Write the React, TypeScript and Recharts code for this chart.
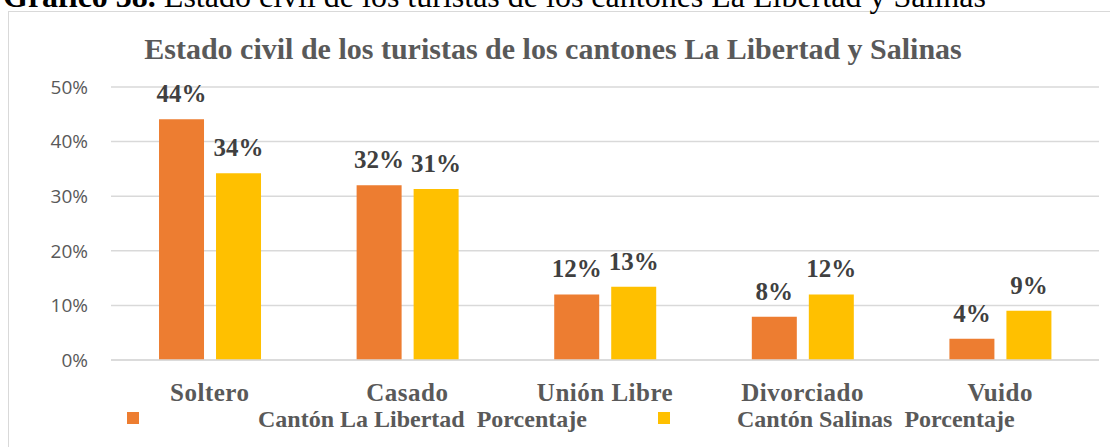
import { BarChart, Bar, XAxis, YAxis, CartesianGrid, LabelList, Legend } from 'recharts';

const categories = ['Soltero', 'Casado', 'Unión Libre', 'Divorciado', 'Vuido'];
const libertad = [0.441, 0.32, 0.12, 0.079, 0.039];
const salinas = [0.342, 0.313, 0.134, 0.12, 0.09];
const yTicks = [0, 0.1, 0.2, 0.3, 0.4, 0.5];
const seriesNames = ['Cantón La Libertad  Porcentaje', 'Cantón Salinas  Porcentaje'];

const data = categories.map((name, i) => ({ name, libertad: libertad[i], salinas: salinas[i] }));

const pct = (v: number) => `${Math.round(v * 100)}%`;
const serif = '"Liberation Serif", "Times New Roman", serif';

const legendPos = [
  { box: 127, text: 258 },
  { box: 658, text: 737 },
];

function ChartLegend({ payload }: { payload?: Array<{ value: string; color: string }> }) {
  return (
    <svg width={1110} height={40} style={{ display: 'block' }}>
      {(payload || []).map((p, i) => (
        <g key={p.value}>
          <rect x={legendPos[i].box} y={2} width={12} height={12} fill={p.color} />
          <text
            x={legendPos[i].text}
            y={17}
            fontFamily={serif}
            fontWeight="bold"
            fontSize={24}
            fill="#595959"
            style={{ whiteSpace: 'pre' }}
          >
            {p.value}
          </text>
        </g>
      ))}
    </svg>
  );
}

export default function App() {
  return (
    <div style={{ position: 'absolute', left: 0, top: 0, width: 1110, height: 447, overflow: 'hidden', background: '#fff' }}>
      <div style={{ position: 'absolute', left: 8, top: 11, width: 1130, height: 470, border: '1.5px solid #d9d9d9', boxSizing: 'border-box' }} />
      <svg width={1110} height={20} style={{ position: 'absolute', left: 0, top: 0 }}>
        <text x={3} y={7} fontFamily={serif} fontSize={32} fill="#000">
          <tspan fontWeight="bold">Gráfico 38.</tspan> Estado civil de los turistas de los cantones La Libertad y Salinas
        </text>
      </svg>
      <svg width={1110} height={80} style={{ position: 'absolute', left: 0, top: 20 }}>
        <text x={553} y={39} textAnchor="middle" fontFamily={serif} fontWeight="bold" fontSize={30} fill="#595959">
          Estado civil de los turistas de los cantones La Libertad y Salinas
        </text>
      </svg>
      <div style={{ position: 'absolute', left: 0, top: 0 }}>
        <BarChart
          width={1110}
          height={447}
          data={data}
          margin={{ top: 87, right: 11, bottom: 7, left: 0 }}
          barCategoryGap="24.3%"
          barGap={12}
        >
          <CartesianGrid horizontal vertical={false} stroke="#d9d9d9" strokeWidth={1.5} />
          <XAxis
            dataKey="name"
            axisLine={{ stroke: '#d9d9d9', strokeWidth: 1.5 }}
            tickLine={false}
            height={40}
            tickMargin={17}
            tick={{ fontFamily: serif, fontWeight: 'bold', fontSize: 25, fill: '#595959', letterSpacing: 0.5 }}
          />
          <YAxis
            domain={[0, 0.5]}
            ticks={yTicks}
            tickFormatter={pct}
            width={111}
            axisLine={false}
            tickLine={false}
            tickMargin={17}
            tick={{ fontFamily: '"Open Sans", "Noto Sans", sans-serif', fontSize: 19, fill: '#595959' }}
          />
          <Legend
            verticalAlign="bottom"
            content={<ChartLegend />}
            wrapperStyle={{ position: 'absolute', left: 0, top: 410, width: 1110, height: 40 }}
          />
          <Bar dataKey="libertad" name={seriesNames[0]} fill="#ed7d31" isAnimationActive={false}>
            <LabelList
              dataKey="libertad"
              position="top"
              offset={17}
              formatter={(v: any) => pct(Number(v))}
              style={{ fontFamily: serif, fontWeight: 'bold', fontSize: 25, fill: '#404040' }}
            />
          </Bar>
          <Bar dataKey="salinas" name={seriesNames[1]} fill="#ffc000" isAnimationActive={false}>
            <LabelList
              dataKey="salinas"
              position="top"
              offset={17}
              formatter={(v: any) => pct(Number(v))}
              style={{ fontFamily: serif, fontWeight: 'bold', fontSize: 25, fill: '#404040' }}
            />
          </Bar>
        </BarChart>
      </div>
    </div>
  );
}
